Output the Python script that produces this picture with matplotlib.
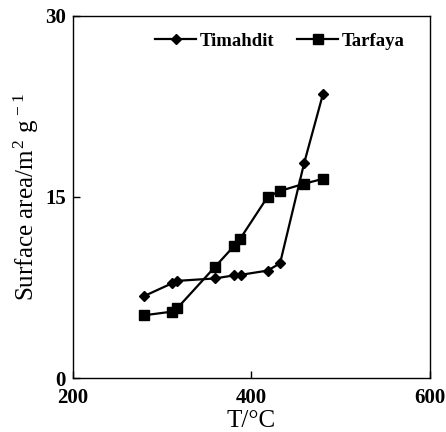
import matplotlib
matplotlib.use("Agg")
import matplotlib.pyplot as plt

plt.rcParams['font.family'] = ['Liberation Serif', 'DejaVu Serif']
plt.rcParams['mathtext.fontset'] = 'custom'
plt.rcParams['mathtext.rm'] = 'Liberation Serif'
plt.rcParams['mathtext.it'] = 'Liberation Serif:italic'

timahdit_T = [280, 311, 317, 359, 380, 388, 418, 432, 459, 480]
timahdit_S = [6.8, 7.85, 8.05, 8.25, 8.5, 8.55, 8.9, 9.5, 17.8, 23.5]
tarfaya_T = [280, 311, 317, 359, 380, 387, 418, 432, 459, 480]
tarfaya_S = [5.2, 5.5, 5.8, 9.2, 10.9, 11.5, 15.0, 15.5, 16.1, 16.5]

x_ticks = [200, 400, 600]
y_ticks = [0, 15, 30]

fig = plt.figure(figsize=(4.46, 4.32), dpi=100)
ax = fig.add_axes([0.1637, 0.125, 0.8003, 0.838])

ax.plot(timahdit_T, timahdit_S, color='black', lw=1.6, marker='D', ms=5.5, label='Timahdit')
ax.plot(tarfaya_T, tarfaya_S, color='black', lw=1.6, marker='s', ms=7.5, label='Tarfaya')

ax.set_xlim(200, 600)
ax.set_ylim(0, 30)
ax.set_xticks(x_ticks)
ax.set_yticks(y_ticks)
ax.tick_params(direction='in', length=5, width=1, labelsize=15)
ax.tick_params(axis='x', pad=7.5)
ax.tick_params(axis='y', pad=5)
for lab in ax.get_xticklabels() + ax.get_yticklabels():
    lab.set_fontweight('bold')
for s in ax.spines.values():
    s.set_linewidth(1)

ax.set_xlabel('T/°C', fontsize=18, labelpad=1)
ax.set_ylabel('Surface area/m$^{\\,2}$ g$^{\\,-1}$', fontsize=18, labelpad=3)

leg = ax.legend(loc='upper center', bbox_to_anchor=(0.58, 1.0), ncol=2, frameon=False,
                fontsize=13.5, handlelength=2.2, handletextpad=0.2, columnspacing=1.2)
for t in leg.get_texts():
    t.set_fontweight('bold')

fig.savefig('out.png', dpi=100)
